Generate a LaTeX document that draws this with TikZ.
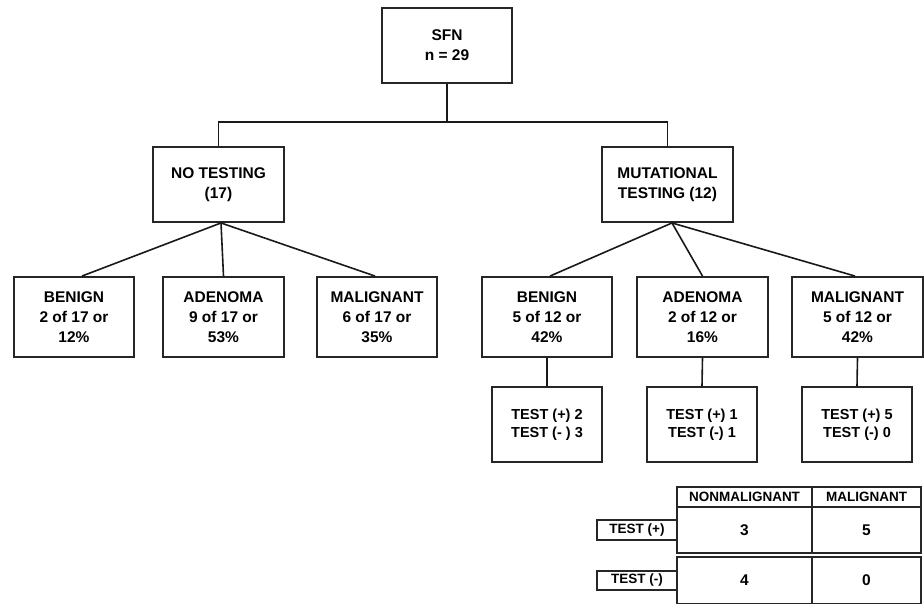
\documentclass[tikz,border=0pt]{standalone}
\usepackage{fontspec}
\setmainfont{Liberation Sans}
\begin{document}
\begin{tikzpicture}[x=1pt,y=-1pt,
  box/.style={draw=black!85,line width=1.9pt,inner sep=0pt,align=center,
    font=\fontsize{15.5}{20}\selectfont\bfseries},
  tbox/.style={box,minimum width=110pt,minimum height=75pt,
    font=\fontsize{14.5}{18}\selectfont\bfseries},
  cell/.style={draw=black!85,line width=1.9pt,inner sep=0pt,align=center},
  hdr/.style={cell,font=\fontsize{13.5}{15}\selectfont\bfseries},
  num/.style={cell,font=\fontsize{15.5}{17}\selectfont\bfseries},
  conn/.style={black!90,line width=1.6pt}]
\useasboundingbox (0,0) rectangle (924,603);
% top
\node[box,minimum width=130pt,minimum height=75pt] (sfn) at (447,45.5) {SFN\\n = 29};
\node[box,minimum width=131pt,minimum height=75pt] (nt) at (218.5,184.5) {NO TESTING\\(17)};
\node[box,minimum width=131pt,minimum height=75pt] (mt) at (667.5,184.5) {MUTATIONAL\\TESTING (12)};
\coordinate (bus) at (447,122);
\draw[conn] (sfn.south) -- (bus);
\draw[conn] (nt.north) |- (bus) -| (mt.north);
% left children
\node[box,minimum width=120pt,minimum height=80pt] (lb) at (74,317) {BENIGN\\2 of 17 or\\12\%};
\node[box,minimum width=121pt,minimum height=80pt] (la) at (223.5,317) {ADENOMA\\9 of 17 or\\53\%};
\node[box,minimum width=120pt,minimum height=80pt] (lm) at (377,317) {MALIGNANT\\6 of 17 or\\35\%};
% right children
\node[box,minimum width=130pt,minimum height=80pt] (rb) at (547,317) {BENIGN\\5 of 12 or\\42\%};
\node[box,minimum width=131pt,minimum height=80pt] (ra) at (702.5,317) {ADENOMA\\2 of 12 or\\16\%};
\node[box,minimum width=131pt,minimum height=80pt] (rm) at (857.5,317) {MALIGNANT\\5 of 12 or\\42\%};
\draw[conn] ([xshift=2.5pt]nt.south) -- ([xshift=8pt]lb.north);
\draw[conn] ([xshift=2.5pt]nt.south) -- (la.north);
\draw[conn] ([xshift=2.5pt]nt.south) -- ([xshift=-2pt]lm.north);
\draw[conn] ([xshift=4.5pt]mt.south) -- ([xshift=3pt]rb.north);
\draw[conn] ([xshift=4.5pt]mt.south) -- (ra.north);
\draw[conn] ([xshift=4.5pt]mt.south) -- ([xshift=-2.5pt]rm.north);
% test boxes
\node[tbox] (tb) at (547,424.5) {TEST (+) 2\\TEST (- ) 3};
\node[tbox] (ta) at (702,424.5) {TEST (+) 1\\TEST (-) 1};
\node[tbox] (tm) at (857,424.5) {TEST (+) 5\\TEST (-) 0};
\draw[conn] (rb.south) -- (tb.north);
\draw[conn] (ra.south) -- (ta.north);
\draw[conn] (rm.south) -- (tm.north);
% table
\node[hdr,minimum width=135pt,minimum height=20pt] (h1) at (744.5,497) {NONMALIGNANT};
\node[hdr,minimum width=109pt,minimum height=20pt] (h2) at (866.5,497) {MALIGNANT};
\node[num,minimum width=135pt,minimum height=46pt] (c11) at (744.5,530) {3};
\node[num,minimum width=109pt,minimum height=46pt] (c12) at (866.5,530) {5};
\node[num,minimum width=135pt,minimum height=47pt] (c21) at (744.5,580.5) {4};
\node[num,minimum width=109pt,minimum height=47pt] (c22) at (866.5,580.5) {0};
\node[hdr,minimum width=80pt,minimum height=20pt] (tp) at (637,530) {TEST (+)};
\node[hdr,minimum width=80pt,minimum height=19pt] (tn) at (637,580.5) {TEST (-)};
\end{tikzpicture}
\end{document}
